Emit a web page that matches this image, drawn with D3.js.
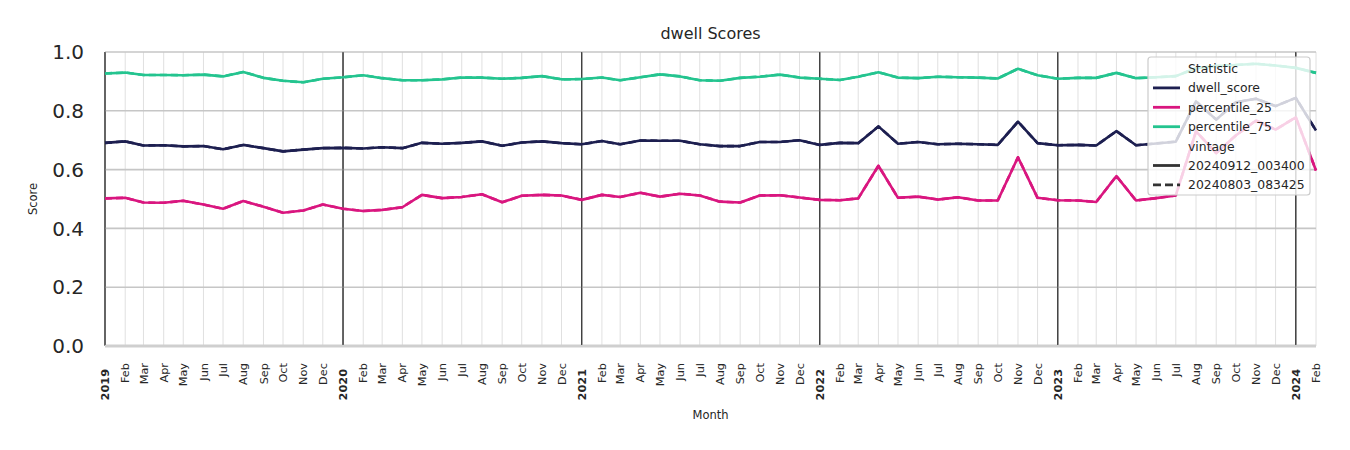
<!DOCTYPE html>
<html><head><meta charset="utf-8">
<script src="https://cdn.jsdelivr.net/npm/d3@7"></script>
<style>
html,body{margin:0;padding:0;background:#fff;}
svg{display:block;font-family:"DejaVu Sans",sans-serif;}
</style></head>
<body><svg id="chart" width="1350" height="450"></svg>
<script>
const startYear = 2019, startMonth = 0, nMonths = 62;
const monthNames = ["Jan","Feb","Mar","Apr","May","Jun","Jul","Aug","Sep","Oct","Nov","Dec"];
const yTicks = [0.0, 0.2, 0.4, 0.6, 0.8, 1.0];

const dwellScore = [
 0.691,0.696,0.682,0.683,0.679,0.680,0.669,0.684,0.673,0.662,0.668,0.673,
 0.674,0.672,0.676,0.673,0.691,0.688,0.691,0.696,0.681,0.692,0.696,0.690,
 0.686,0.697,0.686,0.699,0.698,0.698,0.686,0.680,0.680,0.694,0.694,0.700,
 0.684,0.691,0.690,0.747,0.688,0.694,0.686,0.688,0.686,0.684,0.763,0.690,
 0.683,0.684,0.682,0.731,0.683,0.689,0.695,0.832,0.770,0.829,0.841,0.816,
 0.844,0.733];
const percentile25 = [
 0.502,0.504,0.488,0.487,0.494,0.481,0.467,0.493,0.474,0.453,0.461,0.481,
 0.467,0.459,0.463,0.472,0.514,0.503,0.507,0.516,0.489,0.511,0.514,0.512,
 0.497,0.514,0.507,0.521,0.508,0.518,0.512,0.491,0.488,0.512,0.513,0.505,
 0.497,0.496,0.502,0.613,0.504,0.508,0.498,0.506,0.495,0.495,0.642,0.504,
 0.496,0.495,0.490,0.578,0.495,0.503,0.512,0.730,0.656,0.716,0.767,0.736,
 0.778,0.597];
const percentile75 = [
 0.927,0.930,0.922,0.922,0.921,0.923,0.917,0.932,0.912,0.902,0.897,0.909,
 0.914,0.921,0.911,0.904,0.904,0.907,0.913,0.913,0.909,0.912,0.918,0.907,
 0.908,0.913,0.904,0.914,0.924,0.917,0.904,0.902,0.912,0.916,0.923,0.913,
 0.909,0.905,0.916,0.931,0.913,0.911,0.916,0.914,0.913,0.910,0.943,0.921,
 0.909,0.912,0.912,0.929,0.911,0.914,0.918,0.945,0.952,0.956,0.960,0.954,
 0.946,0.929];

const statistics = ["dwell_score","percentile_25","percentile_75"];
const statValues = [dwellScore, percentile25, percentile75];
const statColors = ["#1d1f50","#d9167f","#24c48f"];
const vintages = ["20240912_003400","20240803_083425"];
const vintageDash = [null, "7,4"];

const months = d3.range(nMonths).map(i => new Date(startYear, startMonth + i, 1));

const svg = d3.select("#chart");
const L = 105, R = 1316, T = 52, B = 346;
const x = d3.scaleTime().domain([months[0], months[nMonths-1]]).range([L, R]);
const y = d3.scaleLinear().domain([0, 1]).range([B, T]);

// month grid
svg.append("g").selectAll("line").data(months).join("line")
  .attr("x1", d => x(d)).attr("x2", d => x(d)).attr("y1", T).attr("y2", B)
  .attr("stroke", d => d.getMonth() === 0 ? "#3d3d3d" : "#dcdcdc")
  .attr("stroke-width", d => d.getMonth() === 0 ? 1.1 : 0.9);

// horizontal grid
svg.append("g").selectAll("line").data(yTicks).join("line")
  .attr("x1", L).attr("x2", R).attr("y1", d => y(d)).attr("y2", d => y(d))
  .attr("stroke", d => d === 0 ? "#cfcfcf" : "#c6c6c6")
  .attr("stroke-width", d => d === 0 ? 3 : 1.6);

// redraw year lines on top of horizontal grid
svg.append("g").selectAll("line").data(months.filter(d => d.getMonth() === 0)).join("line")
  .attr("x1", d => x(d)).attr("x2", d => x(d)).attr("y1", T).attr("y2", B - 1)
  .attr("stroke", "#3d3d3d").attr("stroke-width", 1.1);

// y tick labels
svg.append("g").selectAll("text").data(yTicks).join("text")
  .attr("x", 84).attr("y", d => y(d)).attr("dy", "0.36em")
  .attr("text-anchor", "end").attr("font-size", 20).attr("fill", "#262626")
  .text(d => d3.format(".1f")(d));

// x tick labels
svg.append("g").selectAll("text").data(months).join("text")
  .attr("transform", d => `translate(${x(d)},${d.getMonth() === 0 ? 369 : 363}) rotate(-90)`)
  .attr("text-anchor", "end").attr("dy", "0.36em")
  .attr("font-size", 11.3)
  .attr("font-weight", d => d.getMonth() === 0 ? "bold" : "normal")
  .attr("fill", "#262626")
  .text(d => d.getMonth() === 0 ? String(d.getFullYear()) : monthNames[d.getMonth()]);

// lines
const line = d3.line().x((d, i) => x(months[i])).y(d => y(d));
vintages.forEach((v, vi) => {
  statValues.forEach((vals, si) => {
    const p = svg.append("path").datum(vals)
      .attr("d", line).attr("fill", "none")
      .attr("stroke", statColors[si]).attr("stroke-width", 2.6)
      .attr("stroke-linejoin", "round");
    if (vintageDash[vi]) p.attr("stroke-dasharray", vintageDash[vi]);
  });
});

// titles
svg.append("text").attr("x", (L + R) / 2).attr("y", 39).attr("text-anchor", "middle")
  .attr("font-size", 16).attr("fill", "#262626").text("dwell Scores");
svg.append("text").attr("x", (L + R) / 2).attr("y", 419).attr("text-anchor", "middle")
  .attr("font-size", 11.5).attr("fill", "#262626").text("Month");
svg.append("text").attr("transform", `translate(37,${(T + B) / 2}) rotate(-90)`)
  .attr("text-anchor", "middle").attr("font-size", 11.5).attr("fill", "#262626").text("Score");

// legend
const lg = svg.append("g");
lg.append("rect").attr("x", 1148).attr("y", 57).attr("width", 162).attr("height", 138)
  .attr("rx", 3).attr("fill", "#fff").attr("fill-opacity", 0.8)
  .attr("stroke", "#cccccc").attr("stroke-width", 1.2);
const rows = [
  {label: "Statistic", title: true},
  ...statistics.map((s, i) => ({label: s, color: statColors[i]})),
  {label: "vintage", title: true},
  ...vintages.map((v, i) => ({label: v, color: "#333333", dash: vintageDash[i]}))
];
rows.forEach((r, i) => {
  const cy = 68.5 + i * 19.4;
  if (!r.title) {
    const ln = lg.append("line").attr("x1", 1153).attr("x2", 1180).attr("y1", cy).attr("y2", cy)
      .attr("stroke", r.color).attr("stroke-width", 2.8);
    if (r.dash) ln.attr("stroke-dasharray", "8,4");
  }
  lg.append("text").attr("x", 1188).attr("y", cy).attr("dy", "0.36em")
    .attr("font-size", 12.4).attr("fill", "#262626").text(r.label);
});
</script>
</body></html>
